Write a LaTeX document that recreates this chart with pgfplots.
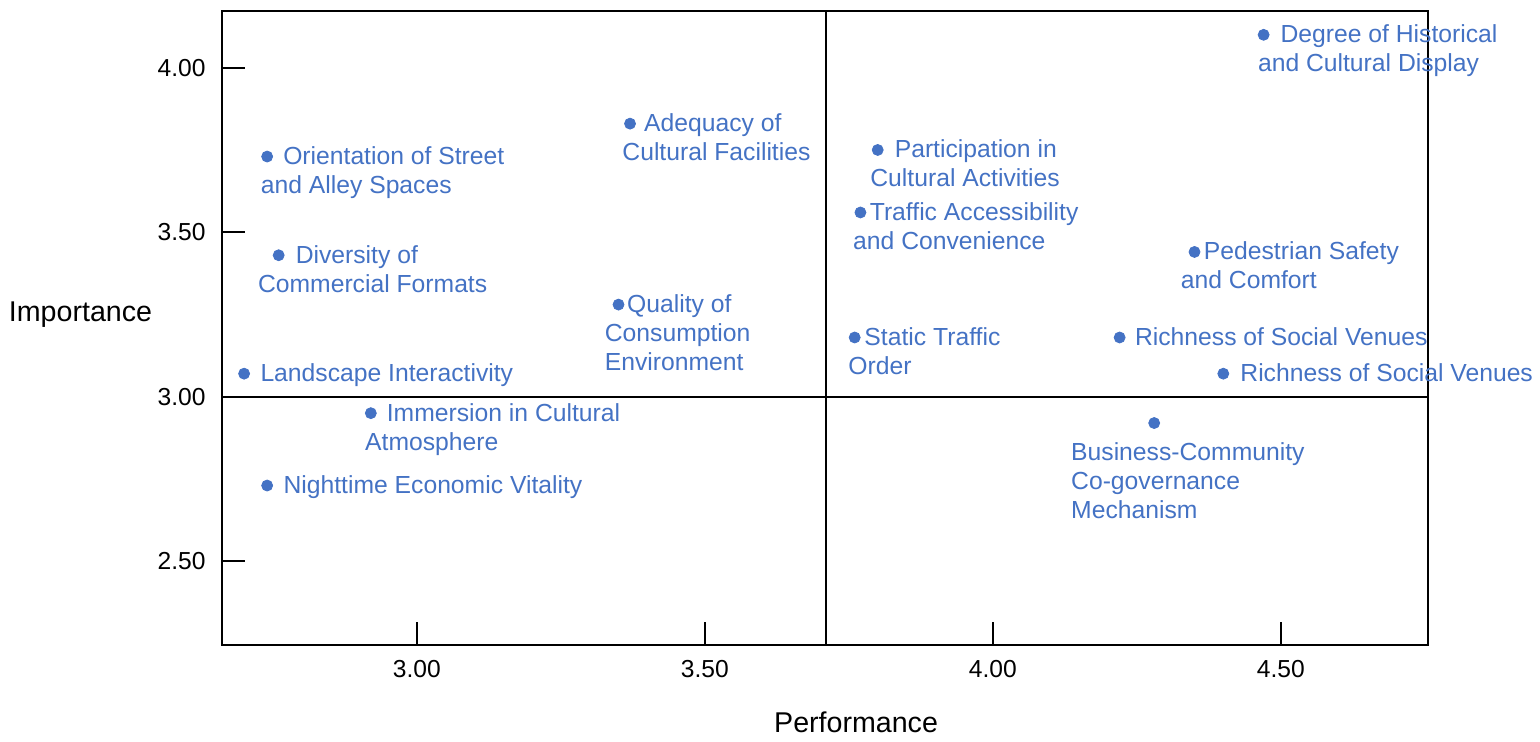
\documentclass[border=0pt]{standalone}
\usepackage{fontspec}
\setmainfont{Liberation Sans}
\usepackage{pgfplots}
\pgfplotsset{compat=1.18}
\definecolor{ptblue}{RGB}{68,114,196}
\tikzset{lab/.style={anchor=base west, inner sep=0pt, text=ptblue, font=\fontsize{12.35bp}{14.5bp}\selectfont}}
\newcommand{\lab}[4]{\node[lab] at (axis cs:#1) [xshift={(#2)*0.5bp}, yshift={-(#3)*0.5bp}] {#4};}
\begin{document}
\begin{tikzpicture}
\useasboundingbox (-111bp,-48.5bp) rectangle (659bp,322.5bp);
\begin{axis}[
  scale only axis,
  width=602.75bp, height=317.15bp,
  xmin=2.6616, xmax=4.7545,
  ymin=2.2453, ymax=4.1733,
  clip=false,
  xtick={3,3.5,4,4.5},
  ytick={2.5,3,3.5,4},
  xtick pos=bottom, ytick pos=left,
  tick align=inside,
  major tick length=11.5bp,
  axis line style={line width=1bp, black},
  every tick/.style={black, line width=1bp},
  /pgf/number format/assume math mode=true,
  /pgf/number format/.cd, fixed, fixed zerofill, precision=2,
  /pgfplots/.cd,
  ticklabel style={font=\fontsize{12.3bp}{14bp}\selectfont, inner sep=0pt},
  xticklabel style={anchor=north, yshift=-7.5bp},
  yticklabel style={anchor=east, xshift=-8bp},
]
% quadrant lines
\addplot[black, line width=0.9bp, no marks] coordinates {(3.71,2.2453) (3.71,4.1733)};
\addplot[black, line width=0.9bp, no marks] coordinates {(2.6616,3.00) (4.7545,3.00)};
% points
\addplot[only marks, mark=*, mark size=2.75bp, ptblue, mark options={draw=ptblue, fill=ptblue}] coordinates {
(4.47,4.10) (2.74,3.73) (2.76,3.43) (2.70,3.07) (3.37,3.83)
(3.80,3.75) (3.77,3.56) (3.35,3.28) (3.76,3.18) (4.35,3.44)
(4.22,3.18) (4.40,3.07) (4.28,2.92) (2.92,2.95) (2.74,2.73)
};
% labels
\lab{4.47,4.10}{16.5}{8}{Degree of Historical}
\lab{4.47,4.10}{-6}{37}{and Cultural Display}
\lab{2.74,3.73}{15.7}{8}{Orientation of Street}
\lab{2.74,3.73}{-6.7}{37}{and Alley Spaces}
\lab{2.76,3.43}{16.7}{8}{Diversity of}
\lab{2.76,3.43}{-21}{37}{Commercial Formats}
\lab{2.70,3.07}{16}{8}{Landscape Interactivity}
\lab{3.37,3.83}{13.7}{8}{Adequacy of}
\lab{3.37,3.83}{-8}{37}{Cultural Facilities}
\lab{3.80,3.75}{16.7}{8}{Participation in}
\lab{3.80,3.75}{-7.7}{37}{Cultural Activities}
\lab{3.77,3.56}{9}{8}{Traffic Accessibility}
\lab{3.77,3.56}{-7.6}{37}{and Convenience}
\lab{3.35,3.28}{8.3}{8}{Quality of}
\lab{3.35,3.28}{-14}{37}{Consumption}
\lab{3.35,3.28}{-14}{66}{Environment}
\lab{3.76,3.18}{9.4}{8}{Static Traffic}
\lab{3.76,3.18}{-6.6}{37}{Order}
\lab{4.35,3.44}{9}{8}{Pedestrian Safety}
\lab{4.35,3.44}{-14}{37}{and Comfort}
\lab{4.22,3.18}{15}{8}{Richness of Social Venues}
\lab{4.40,3.07}{16.7}{8}{Richness of Social Venues}
\lab{4.28,2.92}{-83.4}{37}{Business-Community}
\lab{4.28,2.92}{-83.4}{66}{Co-governance}
\lab{4.28,2.92}{-83.4}{95}{Mechanism}
\lab{2.92,2.95}{15.6}{8}{Immersion in Cultural}
\lab{2.92,2.95}{-6}{37}{Atmosphere}
\lab{2.74,2.73}{16}{8}{Nighttime Economic Vitality}
% axis titles
\node[anchor=base, inner sep=0pt, font=\fontsize{14.3bp}{16bp}\selectfont] at (axis description cs:0.526,0) [yshift=-43.5bp] {Performance};
\node[anchor=base, inner sep=0pt, font=\fontsize{14.3bp}{16bp}\selectfont] at (axis description cs:0,0.5097) [xshift=-70.75bp] {Importance};
\end{axis}
\end{tikzpicture}
\end{document}
